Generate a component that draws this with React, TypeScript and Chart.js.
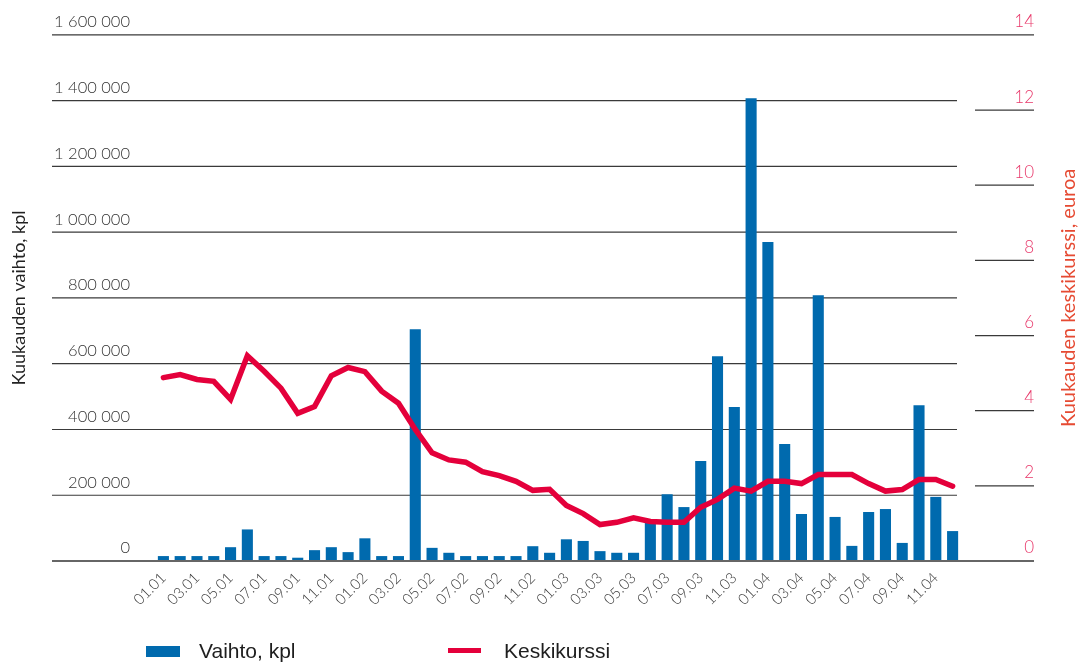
import React, { useEffect, useRef } from "react";
import { Chart, registerables } from "chart.js";

Chart.register(...registerables);

const months = [
  "01.01", "02.01", "03.01", "04.01", "05.01", "06.01", "07.01", "08.01", "09.01", "10.01", "11.01", "12.01",
  "01.02", "02.02", "03.02", "04.02", "05.02", "06.02", "07.02", "08.02", "09.02", "10.02", "11.02", "12.02",
  "01.03", "02.03", "03.03", "04.03", "05.03", "06.03", "07.03", "08.03", "09.03", "10.03", "11.03", "12.03",
  "01.04", "02.04", "03.04", "04.04", "05.04", "06.04", "07.04", "08.04", "09.04", "10.04", "11.04", "12.04",
];

const vaihto = [
  15000, 15000, 15000, 15000, 42000, 96000, 15000, 15000, 10000, 33000, 42000, 27000,
  69000, 15000, 15000, 705000, 40000, 25000, 15000, 15000, 15000, 15000, 45000, 25000,
  66000, 61000, 30000, 25000, 25000, 127000, 203000, 164000, 304000, 623000, 468000, 1407000,
  970000, 356000, 143000, 808000, 134000, 46000, 149000, 158000, 55000, 474000, 195000, 91000,
];

const keskikurssi = [
  4.88, 4.96, 4.83, 4.78, 4.3, 5.46, 5.05, 4.6, 3.93, 4.11, 4.93, 5.15,
  5.04, 4.52, 4.2, 3.5, 2.88, 2.69, 2.63, 2.38, 2.27, 2.12, 1.88, 1.91,
  1.48, 1.26, 0.97, 1.03, 1.15, 1.05, 1.03, 1.03, 1.43, 1.64, 1.94, 1.86,
  2.12, 2.12, 2.06, 2.3, 2.3, 2.3, 2.06, 1.86, 1.9, 2.17, 2.17, 1.99,
];

const leftTitle = "Kuukauden vaihto, kpl";
const rightTitle = "Kuukauden keskikurssi, euroa";
const barLabel = "Vaihto, kpl";
const lineLabel = "Keskikurssi";

const BLUE = "#006aae";
const RED = "#e4003b";
const PINK = "#e8386a";
const TITLE_RED = "#e64a32";
const FONT = "Lato, 'Open Sans', sans-serif";

const fmt = (v: number) => String(v).replace(/\B(?=(\d{3})+(?!\d))/g, " ");

const customPlugin = {
  id: "customGrid",
  beforeDatasetsDraw(chart: any) {
    const { ctx, chartArea, scales } = chart;
    const yL = scales.y;
    const yR = scales.y1;
    const gridLeft = 52;
    const fullRight = yR.right;
    ctx.save();
    ctx.strokeStyle = "#3a3a3a";
    ctx.lineWidth = 1.2;
    yL.ticks.forEach((t: any) => {
      if (t.value === yL.min) return;
      const y = yL.getPixelForValue(t.value);
      const isTop = t.value === yL.max;
      ctx.beginPath();
      ctx.moveTo(gridLeft, y);
      ctx.lineTo(isTop ? fullRight : chartArea.right - 4, y);
      ctx.stroke();
    });
    yR.ticks.forEach((t: any) => {
      if (t.value === yR.min || t.value === yR.max) return;
      const y = yR.getPixelForValue(t.value);
      ctx.beginPath();
      ctx.moveTo(chartArea.right + 14, y);
      ctx.lineTo(fullRight, y);
      ctx.stroke();
    });
    ctx.restore();
  },
  afterDatasetsDraw(chart: any) {
    const { ctx, scales } = chart;
    const yL = scales.y;
    const yR = scales.y1;
    const y0 = yL.getPixelForValue(0);
    ctx.save();
    ctx.strokeStyle = "#666";
    ctx.lineWidth = 2;
    ctx.beginPath();
    ctx.moveTo(52, y0);
    ctx.lineTo(yR.right, y0);
    ctx.stroke();
    ctx.restore();
  },
  afterDraw(chart: any) {
    const { ctx, chartArea } = chart;
    const cy = (chartArea.top + chartArea.bottom) / 2;
    ctx.save();
    ctx.textAlign = "center";
    ctx.textBaseline = "middle";
    ctx.font = `18px ${FONT}`;
    ctx.fillStyle = "#222";
    ctx.translate(19, cy);
    ctx.rotate(-Math.PI / 2);
    ctx.fillText(leftTitle, 0, 0);
    ctx.restore();
    ctx.save();
    ctx.textAlign = "center";
    ctx.textBaseline = "middle";
    ctx.font = `20px ${FONT}`;
    ctx.fillStyle = TITLE_RED;
    ctx.translate(1069, cy);
    ctx.rotate(-Math.PI / 2);
    ctx.fillText(rightTitle, 0, 0);
    ctx.restore();
  },
};

export default function App() {
  const ref = useRef<HTMLCanvasElement | null>(null);
  useEffect(() => {
    if (!ref.current) return;
    const chart = new Chart(ref.current, {
      type: "bar",
      data: {
        labels: months,
        datasets: [
          {
            type: "line",
            label: lineLabel,
            data: keskikurssi,
            yAxisID: "y1",
            borderColor: RED,
            backgroundColor: RED,
            borderWidth: 5.5,
            pointRadius: 0,
            tension: 0,
            borderCapStyle: "round",
            borderJoinStyle: "miter",
            order: 0,
          } as any,
          {
            type: "bar",
            label: barLabel,
            data: vaihto,
            yAxisID: "y",
            backgroundColor: BLUE,
            categoryPercentage: 1,
            barPercentage: 0.66,
            order: 1,
          },
        ],
      },
      options: {
        responsive: false,
        animation: false,
        layout: { padding: { top: 34, right: 46, bottom: 0, left: 0 } },
        plugins: { legend: { display: false }, tooltip: { enabled: false } },
        scales: {
          x: {
            grid: { display: false, drawTicks: false },
            border: { display: false },
            ticks: {
              autoSkip: false,
              minRotation: 45,
              maxRotation: 45,
              padding: 8,
              color: "#3a3a3a",
              font: { family: FONT, size: 15, weight: 300 as any },
              callback: (_v: any, i: number) => (i % 2 === 0 ? months[i] : ""),
            },
            afterFit: (s: any) => {
              s.height = 103;
            },
          },
          y: {
            position: "left",
            min: 0,
            max: 1600000,
            grid: { display: false, drawTicks: false },
            border: { display: false },
            ticks: {
              stepSize: 200000,
              padding: 25,
              labelOffset: -13,
              color: "#333",
              font: { family: FONT, size: 16.5, weight: 300 as any },
              callback: (v: any) => fmt(Number(v)),
            },
            afterFit: (s: any) => {
              s.width = 155;
            },
          },
          y1: {
            position: "right",
            min: 0,
            max: 14,
            grid: { display: false, drawTicks: false },
            border: { display: false },
            ticks: {
              stepSize: 2,
              crossAlign: "far",
              labelOffset: -13,
              color: PINK,
              font: { family: FONT, size: 17, weight: 300 as any },
            },
            afterFit: (s: any) => {
              s.width = 73;
            },
          },
        },
      },
      plugins: [customPlugin],
    });
    return () => chart.destroy();
  }, []);

  const legendText: React.CSSProperties = {
    position: "absolute",
    top: 639,
    fontFamily: "'Liberation Sans', Arial, sans-serif",
    fontSize: 21,
    color: "#1e1e1e",
    lineHeight: "24px",
    whiteSpace: "nowrap",
  };

  return (
    <div style={{ position: "absolute", left: 0, top: 0, width: 1080, height: 664, background: "#fff" }}>
      <canvas ref={ref} width={1080} height={664} style={{ display: "block" }} />
      <div style={{ position: "absolute", left: 146, top: 646, width: 34, height: 11, background: BLUE }} />
      <div style={{ ...legendText, left: 199 }}>{barLabel}</div>
      <div style={{ position: "absolute", left: 448, top: 648, width: 33, height: 5, background: RED }} />
      <div style={{ ...legendText, left: 504 }}>{lineLabel}</div>
    </div>
  );
}
